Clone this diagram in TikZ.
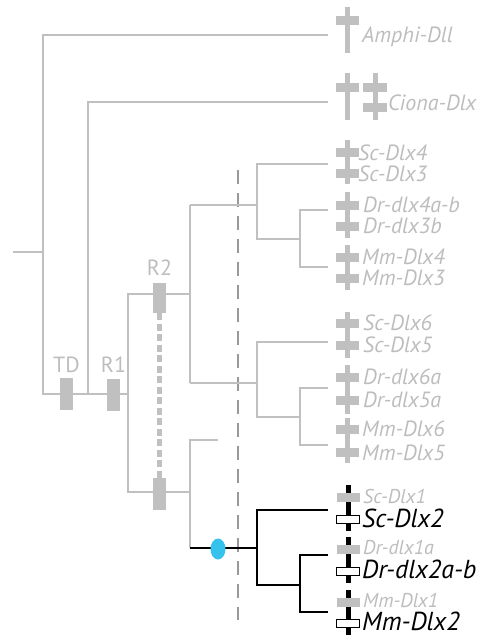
\documentclass[tikz,border=0pt]{standalone}
\usepackage{fontspec}
\setmainfont{PT Sans}
\usetikzlibrary{shapes.geometric}
\definecolor{lg}{HTML}{C0C0C0}
\definecolor{tg}{HTML}{BDBDBD}
\definecolor{dg}{HTML}{999999}
\definecolor{cy}{HTML}{35C3EE}
\tikzset{
  br/.style={draw=lg,line width=1.8pt},
  bk/.style={draw=black,line width=1.8pt},
  dupbox/.style={fill=lg,draw=none,minimum width=13pt,inner sep=0pt},
  lbl/.style={text=tg,font=\fontsize{22}{22}\selectfont,inner sep=0pt},
  glab/.style={text=tg,font=\fontsize{22}{22}\selectfont\itshape,anchor=base west,inner sep=0pt},
  slab/.style={text=tg,font=\fontsize{20}{20}\selectfont\itshape,anchor=base west,inner sep=0pt},
  blab/.style={text=black,font=\fontsize{26}{26}\selectfont\itshape,anchor=base west,inner sep=0pt},
}
\newcommand\crossg[2]{\fill[lg] (#1-11.5,#2-4.5) rectangle (#1+11.5,#2+4.5);}
\newcommand\vbarg[3]{\fill[lg] (#1-2.5,#2) rectangle (#1+2.5,#3);}
\newcommand\vbark[3]{\fill[black] (#1-2.5,#2) rectangle (#1+2.5,#3);}
\newcommand\crossw[2]{\filldraw[fill=white,draw=black,line width=1pt] (#1-11.5,#2-4) rectangle (#1+11.5,#2+4);}
\begin{document}
\begin{tikzpicture}[x=1pt,y=-1pt]
\useasboundingbox (0,0) rectangle (481,638);
% coordinates
\coordinate (root) at (13,252);
\coordinate (n0) at (43,252);
\coordinate (n0t) at (43,35);
\coordinate (n0b) at (43,394);
\coordinate (amphi) at (328,35);
\coordinate (n1b) at (88,394);
\coordinate (n1t) at (88,102);
\coordinate (ciona) at (328,102);
\coordinate (n2) at (128,394);
\coordinate (n2t) at (128,294);
\coordinate (n2b) at (128,492);
\coordinate (n3) at (190,294);
\coordinate (n3t) at (190,205);
\coordinate (n3b) at (190,383);
\coordinate (a0) at (257,205);
\coordinate (a0t) at (257,164);
\coordinate (a0b) at (257,239);
\coordinate (scA) at (328,164);
\coordinate (a1) at (300,239);
\coordinate (a1t) at (300,210);
\coordinate (a1b) at (300,267);
\coordinate (drA) at (328,210);
\coordinate (mmA) at (328,267);
\coordinate (b0) at (257,383);
\coordinate (b0t) at (257,342);
\coordinate (b0b) at (257,417);
\coordinate (scB) at (328,342);
\coordinate (b1) at (300,417);
\coordinate (b1t) at (300,388);
\coordinate (b1b) at (300,445);
\coordinate (drB) at (328,388);
\coordinate (mmB) at (328,445);
\coordinate (n4) at (190,492);
\coordinate (n4t) at (190,440);
\coordinate (stub) at (218,440);
\coordinate (n4b) at (190,548);
\coordinate (c0) at (257,548);
\coordinate (c0t) at (257,510);
\coordinate (c0b) at (257,585);
\coordinate (scC) at (328,510);
\coordinate (c1) at (300,585);
\coordinate (c1t) at (300,555);
\coordinate (c1b) at (300,612);
\coordinate (drC) at (328,555);
\coordinate (mmC) at (328,612);
\coordinate (dtop) at (238,170);
\coordinate (dbot) at (238,620);
% dashed time line
\draw[dg,line width=1.6pt,dash pattern=on 14pt off 9pt] (dtop) -- (dbot);
% grey tree
\draw[br] (root) -- (n0);
\draw[br] (amphi) -- (n0t) -- (n0b) -- (n2);
\draw[br] (ciona) -- (n1t) -- (n1b);
\draw[br] (n3) -- (n2t) -- (n2b) -- (n4);
\draw[br] (n3t) -- (n3b);
\draw[br] (n3t) -- (a0);
\draw[br] (scA) -- (a0t) -- (a0b) -- (a1);
\draw[br] (drA) -- (a1t) -- (a1b) -- (mmA);
\draw[br] (n3b) -- (b0);
\draw[br] (scB) -- (b0t) -- (b0b) -- (b1);
\draw[br] (drB) -- (b1t) -- (b1b) -- (mmB);
\draw[br] (stub) -- (n4t) -- (n4b);
% black subtree
\draw[bk] (n4b) -- (c0);
\draw[bk] (scC) -- (c0t) -- (c0b) -- (c1);
\draw[bk] (drC) -- (c1t) -- (c1b) -- (mmC);
\node[ellipse,fill=cy,minimum width=15pt,minimum height=21pt,inner sep=0pt] (cyan) at (218,549) {};
% duplication boxes
\node[dupbox,minimum height=32pt] (TDbox) at (66.5,394) {};
\node[dupbox,minimum height=32pt] (R1box) at (113.5,395) {};
\node[dupbox,minimum height=30pt] (R2box) at (159.5,298) {};
\node[dupbox,minimum height=32pt] (R2low) at (159.5,494) {};
\draw[lg,line width=4.5pt,dash pattern=on 7pt off 3.5pt] (R2box.south) -- (R2low.north);
\node[lbl] (TD) at (66.5,365) {TD};
\node[lbl] (R1) at (113.5,365) {R1};
\node[lbl] (R2) at (159.5,268) {R2};
% gene markers
\vbarg{347}{7}{53}\crossg{347}{20}
\vbarg{347}{73}{120}\crossg{347}{87}
\vbarg{375}{73}{120}\fill[lg] (363,82.5) rectangle (387,91.5);\fill[lg] (363,102.5) rectangle (387,111.5);
% group A
\vbarg{347}{140}{184}\crossg{347}{152}\crossg{347}{173}
\vbarg{347}{192}{238}\crossg{347}{205}\crossg{347}{226}
\vbarg{347}{245}{290}\crossg{347}{257}\crossg{347}{278}
% group B
\vbarg{347}{312}{358}\crossg{347}{323}\crossg{347}{345}
\vbarg{347}{365}{414}\crossg{347}{377}\crossg{347}{400}
\vbarg{347}{418}{463}\crossg{347}{429}\crossg{347}{452}
% group C
\vbark{348}{485}{531}\crossg{348}{497}\crossw{348}{519}
\vbark{348}{537}{583}\crossg{348}{549}\crossw{348}{571}
\vbark{348}{590}{635}\crossg{348}{602}\crossw{348}{623}
% labels
\node[glab] (Lamphi) at (362,42) {Amphi-Dll};
\node[glab] (Lciona) at (388,110) {Ciona-Dlx};
\node[glab] (L1) at (358,160) {Sc-Dlx4};
\node[glab] (L2) at (358,181) {Sc-Dlx3};
\node[glab] (L3) at (363,212) {Dr-dlx4a-b};
\node[glab] (L4) at (363,233) {Dr-dlx3b};
\node[glab] (L5) at (362,264) {Mm-Dlx4};
\node[glab] (L6) at (362,285) {Mm-Dlx3};
\node[glab] (L7) at (363,330) {Sc-Dlx6};
\node[glab] (L8) at (363,352) {Sc-Dlx5};
\node[glab] (L9) at (363,384) {Dr-dlx6a};
\node[glab] (L10) at (363,407) {Dr-dlx5a};
\node[glab] (L11) at (362,436) {Mm-Dlx6};
\node[glab] (L12) at (362,460) {Mm-Dlx5};
\node[slab] (L13) at (363,503) {Sc-Dlx1};
\node[blab] (L14) at (362,527) {Sc-Dlx2};
\node[slab] (L15) at (363,554) {Dr-dlx1a};
\node[blab] (L16) at (362,578) {Dr-dlx2a-b};
\node[slab] (L17) at (363,607) {Mm-Dlx1};
\node[blab] (L18) at (362,630) {Mm-Dlx2};
\end{tikzpicture}
\end{document}
